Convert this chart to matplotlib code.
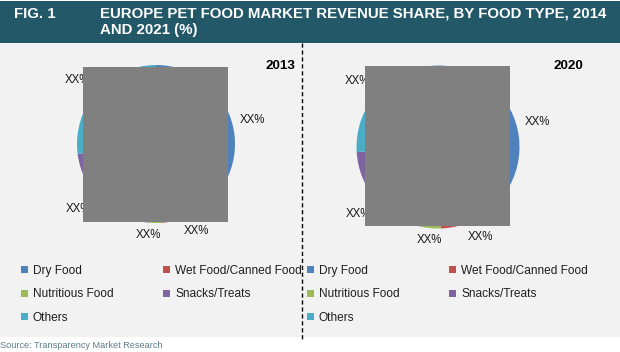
import matplotlib
matplotlib.use("Agg")
import matplotlib.pyplot as plt
from matplotlib.patches import Rectangle
from matplotlib.lines import Line2D
import numpy as np

plt.rcParams["font.family"] = ["Liberation Sans", "DejaVu Sans"]

# ─── Dados ────────────────────────────────────────────────────────
CATEGORIES = ["Dry Food", "Wet Food/Canned Food", "Nutritious Food",
              "Snacks/Treats", "Others"]
SHARE_2013 = [46.5, 2.5, 2.5, 21.5, 27.0]
SHARE_2020 = [46.0, 3.5, 4.0, 20.5, 26.0]
YEARS      = ["2013", "2020"]
LABEL_TXT  = "XX%"

# ─── Estilo / layout ──────────────────────────────────────────────
COLORS   = ["#4F81BD", "#C0504D", "#9BBB59", "#8064A2", "#4BACC6"]
HEADER   = "#225868"
PANEL_BG = "#F2F2F2"
W, H     = 620, 352
LBL_ANG  = [14, -65, -95, -140, 141]
LBL_DIST = [1.26, 1.22, 1.15, 1.28, 1.28]


def fx(x):
    return x / W


def fy(y):
    return 1 - y / H


fig = plt.figure(figsize=(W / 100, H / 100), dpi=100)
fig.patch.set_facecolor("white")

# faixa do título e painel cinza
fig.add_artist(Rectangle((0, fy(43)), 1, fy(1) - fy(43), transform=fig.transFigure,
                         facecolor=HEADER, edgecolor="none", zorder=0))
fig.add_artist(Rectangle((0, fy(337)), 1, fy(43) - fy(337), transform=fig.transFigure,
                         facecolor=PANEL_BG, edgecolor="none", zorder=0))

fig.text(fx(14), fy(14), "FIG. 1", color="white", fontsize=10.8,
         fontweight="bold", va="center", ha="left")
fig.text(fx(100), fy(14), "EUROPE PET FOOD MARKET REVENUE SHARE, BY FOOD TYPE, 2014",
         color="white", fontsize=10.8, fontweight="bold", va="center", ha="left")
fig.text(fx(100), fy(30), "AND 2021 (%)", color="white", fontsize=10.8,
         fontweight="bold", va="center", ha="left")

# divisória tracejada
fig.add_artist(Line2D([fx(302), fx(302)], [fy(43), fy(340)], transform=fig.transFigure,
                      color="black", linewidth=1, dashes=(3, 2), zorder=3))

panels = [
    # (cx, cy, r, valores, ano, x do ano, legenda x, máscara x0,y0,x1,y1)
    (156, 144, 79, SHARE_2013, YEARS[0], 295, 21, (83, 67, 228, 222)),
    (438, 147, 81.5, SHARE_2020, YEARS[1], 583, 307, (365, 66, 510, 226)),
]

for cx, cy, r, vals, year, yx, lx, mask in panels:
    ax = fig.add_axes([fx(cx - 1.5 * r), fy(cy + 1.5 * r), 3 * r / W, 3 * r / H])
    wedges, _ = ax.pie(vals, colors=COLORS, startangle=90, counterclock=False,
                       radius=1, wedgeprops=dict(linewidth=0))
    ax.set_xlim(-1.5, 1.5)
    ax.set_ylim(-1.5, 1.5)
    ax.axis("off")
    for ang, d in zip(LBL_ANG, LBL_DIST):
        a = np.deg2rad(ang)
        ax.text(d * np.cos(a), d * np.sin(a), LABEL_TXT, fontsize=8.3,
                color="#1a1a1a", ha="center", va="center")

    # caixa cinza que cobre o gráfico
    x0, y0, x1, y1 = mask
    fig.add_artist(Rectangle((fx(x0), fy(y1)), fx(x1) - fx(x0), fy(y0) - fy(y1),
                             transform=fig.transFigure, facecolor="#808080",
                             edgecolor="none", zorder=5))

    fig.text(fx(yx), fy(66), year, fontsize=9.7, fontweight="bold",
             ha="right", va="center", color="black")

    order = [0, 2, 4, 1, 3]
    leg = fig.legend([wedges[i] for i in order], [CATEGORIES[i] for i in order],
                     loc="upper left", bbox_to_anchor=(fx(lx), fy(265)),
                     bbox_transform=fig.transFigure, ncol=2, frameon=False,
                     fontsize=8.6, handlelength=0.55, handleheight=0.55,
                     handletextpad=0.45, labelspacing=0.95, columnspacing=4.15,
                     borderpad=0, borderaxespad=0)
    for t in leg.get_texts():
        t.set_color("#1f1f1f")

fig.text(0, fy(345), "Source: Transparency Market Research", fontsize=6.6,
         color="#5B7B8A", ha="left", va="center")

plt.savefig("out.png", dpi=100, facecolor=fig.get_facecolor())
plt.close()
